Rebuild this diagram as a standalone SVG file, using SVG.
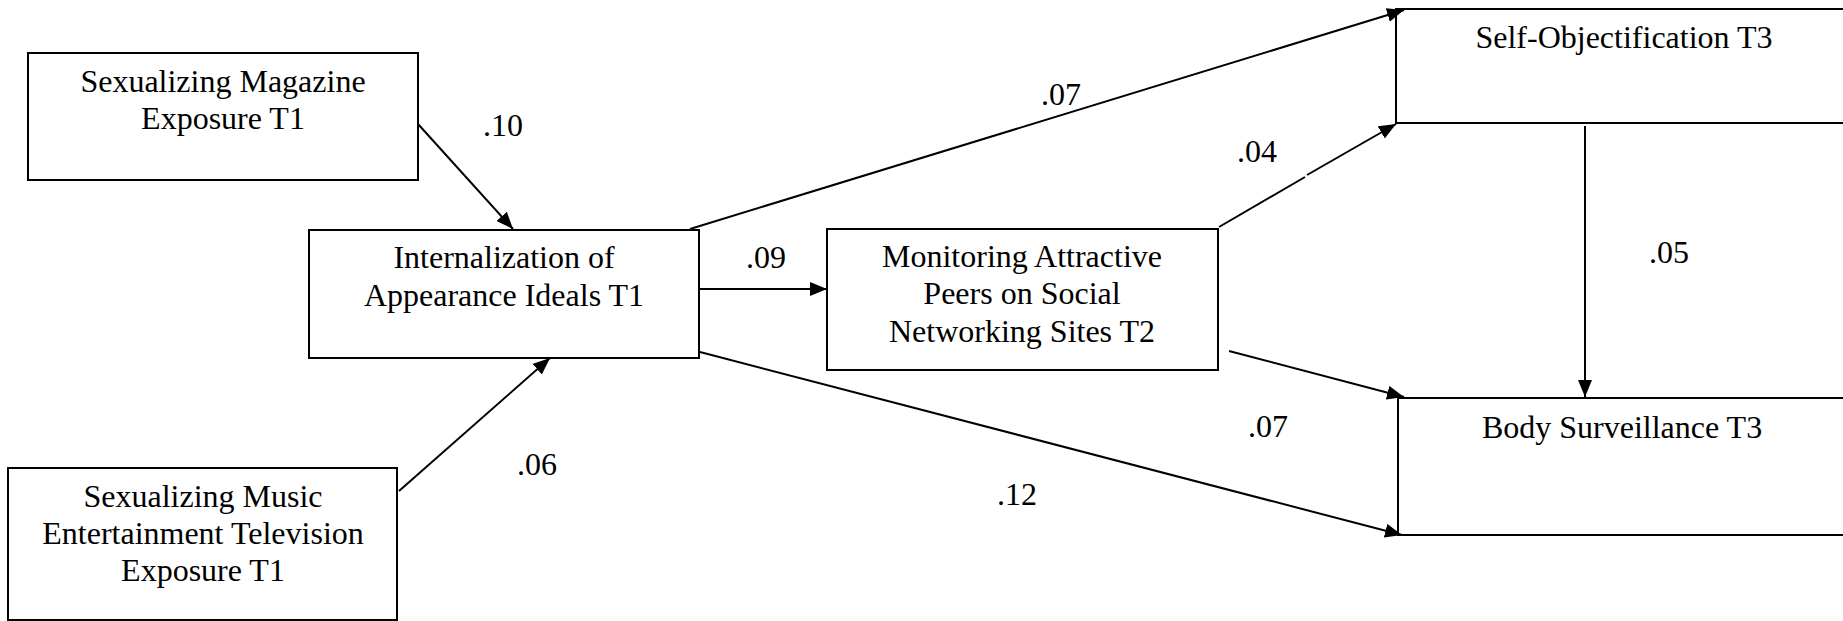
<svg xmlns="http://www.w3.org/2000/svg" width="1843" height="621" viewBox="0 0 1843 621">
<style>
.box{fill:#fff;stroke:#000;stroke-width:2}
.t{font-family:"Liberation Serif","Times New Roman",serif;font-size:32px;fill:#000;text-anchor:middle}
.c{fill:none;stroke:#000;stroke-width:2}
</style>
<defs>
<marker id="ah" markerUnits="userSpaceOnUse" markerWidth="18" markerHeight="14" refX="17" refY="7" orient="auto">
<path d="M0,0 L17,7 L0,14 z" fill="#000"/>
</marker>
</defs>
<rect width="1843" height="621" fill="#fff"/>
<g id="magazine">
<rect class="box" x="28" y="53" width="390" height="127"/>
<text class="t" x="223" y="92">Sexualizing Magazine</text>
<text class="t" x="223" y="129">Exposure T1</text>
</g>
<g id="music">
<rect class="box" x="8" y="468" width="389" height="152"/>
<text class="t" x="203" y="507">Sexualizing Music</text>
<text class="t" x="203" y="544">Entertainment Television</text>
<text class="t" x="203" y="581">Exposure T1</text>
</g>
<g id="internalization">
<rect class="box" x="309" y="230" width="390" height="128"/>
<text class="t" x="504" y="268">Internalization of</text>
<text class="t" x="504" y="306">Appearance Ideals T1</text>
</g>
<g id="monitoring">
<rect class="box" x="827" y="229" width="391" height="141"/>
<text class="t" x="1022" y="267">Monitoring Attractive</text>
<text class="t" x="1022" y="304">Peers on Social</text>
<text class="t" x="1022" y="342">Networking Sites T2</text>
</g>
<g id="selfobj">
<rect class="box" x="1396" y="9" width="500" height="114"/>
<text class="t" x="1624" y="48">Self-Objectification T3</text>
</g>
<g id="surveillance">
<rect class="box" x="1398" y="398" width="500" height="137"/>
<text class="t" x="1622" y="438">Body Surveillance T3</text>
</g>
<g id="connectors">
<line class="c" x1="418" y1="124" x2="513" y2="229" marker-end="url(#ah)"/>
<line class="c" x1="399" y1="491" x2="550" y2="358" marker-end="url(#ah)"/>
<line class="c" x1="699" y1="289" x2="827" y2="289" marker-end="url(#ah)"/>
<line class="c" x1="690" y1="229" x2="1404" y2="10" marker-end="url(#ah)"/>
<line class="c" x1="1219" y1="227" x2="1305" y2="177"/>
<line class="c" x1="1307" y1="175" x2="1396" y2="124" marker-end="url(#ah)"/>
<line class="c" x1="1229" y1="351" x2="1404" y2="397" marker-end="url(#ah)"/>
<line class="c" x1="700" y1="352" x2="1402" y2="535" marker-end="url(#ah)"/>
<line class="c" x1="1585" y1="126" x2="1585" y2="397" marker-end="url(#ah)"/>
</g>
<g id="labels">
<text class="t" x="503" y="136">.10</text>
<text class="t" x="537" y="475">.06</text>
<text class="t" x="766" y="268">.09</text>
<text class="t" x="1061" y="105">.07</text>
<text class="t" x="1257" y="162">.04</text>
<text class="t" x="1669" y="263">.05</text>
<text class="t" x="1268" y="437">.07</text>
<text class="t" x="1017" y="505">.12</text>
</g>
</svg>
